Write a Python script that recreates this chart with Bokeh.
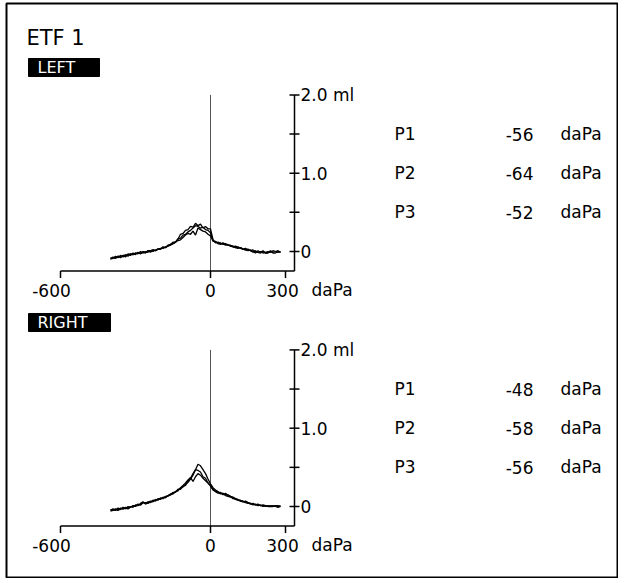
from bokeh.plotting import figure
from bokeh.models import Range1d
from bokeh.core.properties import value
from bokeh.embed import file_html
from bokeh.resources import INLINE

# ---------------- data ----------------
pressure = [-400, -390, -380, -370, -360, -350, -340, -330, -320, -310,
            -300, -290, -280, -270, -260, -250, -240, -230, -220, -210,
            -200, -190, -180, -170, -160, -150, -140, -130, -120, -110,
            -100, -90, -80, -70, -60, -50, -40, -30, -20, -10,
            0, 10, 20, 30, 40, 50, 60, 70, 80, 90,
            100, 110, 120, 130, 140, 150, 160, 170, 180, 190,
            200, 210, 220, 230, 240, 250, 260, 270, 280]

left_p1 = [-0.09, -0.07, -0.09, -0.06, -0.08, -0.05, -0.07, -0.03, -0.05, -0.02,
           -0.04, -0.01, -0.03, -0.01, -0.02, 0.01, -0.01, 0.02, 0.01, 0.03,
           0.03, 0.06, 0.05, 0.08, 0.09, 0.12, 0.12, 0.16, 0.17, 0.21,
           0.22, 0.25, 0.27, 0.30, 0.33, 0.32, 0.30, 0.31, 0.28, 0.27,
           0.24, 0.14, 0.12, 0.11, 0.11, 0.09, 0.10, 0.08, 0.07, 0.07,
           0.05, 0.06, 0.04, 0.03, 0.04, 0.02, 0.01, 0.02, 0.00, -0.01,
           0.00, -0.02, -0.01, 0.00, -0.01, 0.01, 0.00, -0.01, 0.00]
left_p2 = [-0.08, -0.09, -0.06, -0.08, -0.05, -0.07, -0.04, -0.06, -0.03, -0.04,
           -0.02, -0.03, 0.00, -0.02, 0.00, -0.01, 0.01, 0.00, 0.02, 0.03,
           0.03, 0.05, 0.05, 0.07, 0.09, 0.10, 0.12, 0.16, 0.22, 0.23,
           0.27, 0.28, 0.32, 0.31, 0.36, 0.33, 0.35, 0.30, 0.32, 0.29,
           0.29, 0.15, 0.11, 0.12, 0.10, 0.10, 0.08, 0.09, 0.07, 0.06,
           0.07, 0.05, 0.05, 0.03, 0.02, 0.03, 0.01, -0.01, 0.01, -0.01,
           -0.02, 0.00, -0.02, -0.02, 0.00, -0.02, -0.02, 0.00, -0.01]
left_p3 = [-0.10, -0.08, -0.08, -0.06, -0.07, -0.05, -0.05, -0.04, -0.03, -0.04,
           -0.02, -0.02, -0.02, 0.00, -0.01, 0.01, 0.01, 0.02, 0.01, 0.03,
           0.04, 0.04, 0.06, 0.07, 0.08, 0.10, 0.12, 0.14, 0.15, 0.18,
           0.21, 0.23, 0.22, 0.26, 0.21, 0.30, 0.28, 0.26, 0.25, 0.22,
           0.20, 0.13, 0.13, 0.10, 0.09, 0.11, 0.09, 0.08, 0.08, 0.06,
           0.05, 0.04, 0.05, 0.03, 0.02, 0.01, 0.02, 0.00, -0.02, 0.01,
           -0.01, 0.01, -0.02, -0.01, 0.01, -0.01, 0.00, 0.01, -0.01]

right_p1 = [-0.05, -0.03, -0.05, -0.02, -0.04, -0.01, -0.03, 0.00, -0.01, 0.01,
            0.01, 0.03, 0.02, 0.05, 0.05, 0.04, 0.06, 0.07, 0.08, 0.09,
            0.10, 0.11, 0.12, 0.14, 0.16, 0.17, 0.19, 0.21, 0.23, 0.25,
            0.28, 0.31, 0.35, 0.40, 0.47, 0.54, 0.52, 0.47, 0.42, 0.35,
            0.29, 0.24, 0.21, 0.19, 0.17, 0.16, 0.14, 0.13, 0.12, 0.11,
            0.09, 0.08, 0.07, 0.07, 0.05, 0.04, 0.04, 0.03, 0.02, 0.02,
            0.01, 0.01, 0.00, 0.01, 0.00, 0.00, 0.01, 0.00, 0.01]
right_p2 = [-0.04, -0.05, -0.03, -0.04, -0.02, -0.03, -0.01, -0.02, 0.00, -0.01,
            0.02, 0.01, 0.04, 0.06, 0.03, 0.05, 0.07, 0.06, 0.09, 0.08,
            0.11, 0.10, 0.13, 0.13, 0.15, 0.18, 0.18, 0.22, 0.22, 0.26,
            0.27, 0.33, 0.36, 0.42, 0.47, 0.46, 0.44, 0.38, 0.36, 0.30,
            0.26, 0.21, 0.19, 0.17, 0.18, 0.15, 0.17, 0.14, 0.13, 0.10,
            0.10, 0.08, 0.08, 0.06, 0.07, 0.05, 0.03, 0.04, 0.02, 0.03,
            0.01, 0.02, 0.01, 0.00, 0.01, 0.00, 0.01, 0.01, 0.00]
right_p3 = [-0.06, -0.05, -0.04, -0.05, -0.03, -0.03, -0.02, -0.03, -0.01, 0.01,
            0.00, 0.02, 0.02, 0.05, 0.04, 0.06, 0.05, 0.08, 0.07, 0.10,
            0.09, 0.12, 0.11, 0.14, 0.15, 0.16, 0.19, 0.20, 0.24, 0.27,
            0.30, 0.34, 0.37, 0.32, 0.38, 0.42, 0.40, 0.36, 0.33, 0.30,
            0.27, 0.22, 0.20, 0.18, 0.16, 0.17, 0.15, 0.15, 0.13, 0.12,
            0.10, 0.09, 0.07, 0.06, 0.06, 0.05, 0.04, 0.02, 0.03, 0.01,
            0.02, 0.00, 0.01, 0.00, 0.00, 0.01, 0.00, -0.01, 0.00]

peak_names = ["P1", "P2", "P3"]
left_peaks = ["-56", "-64", "-52"]
right_peaks = ["-48", "-58", "-56"]

x_ticks = [-600, 0, 300]
x_tick_labels = ["-600", "0", "300"]
y_ticks = [0, 0.5, 1.0, 1.5, 2.0]
y_tick_labels = ["0", "", "1.0", "", "2.0 ml"]
pressure_unit = "daPa"
title = "ETF 1"

# ---------------- layout (px -> data) ----------------
W, H = 612, 575          # frame size
PAD_L, PAD_T = 6, 3
PX_X = 0.25          # px per daPa
PX_Y = 78.3          # px per ml
zero_px = 204        # x pixel (within frame) of 0 daPa
top_zero = 248       # y pixel (within frame) of 0 ml, top panel
bot_zero = 503       # y pixel of 0 ml, bottom panel

x_start = -zero_px / PX_X
x_end = (W - zero_px) / PX_X

p = figure(width=W + PAD_L, height=H + PAD_T, output_backend="svg",
           toolbar_location=None,
           x_range=Range1d(x_start, x_end),
           y_range=Range1d(-(H - top_zero) / PX_Y, top_zero / PX_Y),
           x_axis_location=None, y_axis_location=None, min_border=0,
           min_border_left=PAD_L, min_border_top=PAD_T)
p.extra_y_ranges = {"bottom": Range1d(-(H - bot_zero) / PX_Y, bot_zero / PX_Y)}
p.grid.visible = False
p.outline_line_color = "black"
p.outline_line_width = 2
p.background_fill_color = "white"
p.border_fill_color = "white"

FONT = value("DejaVu Sans")
FS = "17px"
AXIS_X = 336      # daPa where ml axis sits
AXIS_Y = -0.25    # ml where pressure axis sits

panels = [
    ("default", "LEFT", [left_p1, left_p2, left_p3], left_peaks),
    ("bottom", "RIGHT", [right_p1, right_p2, right_p3], right_peaks),
]

for rn, side, curves, peaks in panels:
    kw = dict(y_range_name=rn)
    # zero-pressure reference line
    p.segment(x0=[0], y0=[AXIS_Y], x1=[0], y1=[2.0], line_color="#555555",
              line_width=1, **kw)
    # curves
    for c in curves:
        p.line(pressure, c, line_color="black", line_width=1.3, **kw)
    # pressure axis
    p.segment(x0=[x_ticks[0]], y0=[AXIS_Y], x1=[AXIS_X], y1=[AXIS_Y],
              line_color="black", line_width=1.5, **kw)
    p.segment(x0=x_ticks, y0=[AXIS_Y] * 3, x1=x_ticks, y1=[AXIS_Y - 7 / PX_Y] * 3,
              line_color="black", line_width=1.5, **kw)
    p.text(x=x_ticks, y=[AXIS_Y - 19 / PX_Y] * 3, text=x_tick_labels,
           x_offset=[-9, 0, -3], text_align="center", text_baseline="middle",
           text_font=FONT, text_font_size=FS, text_color="black", **kw)
    p.text(x=[101 / PX_X], y=[AXIS_Y - 19 / PX_Y], text=[pressure_unit],
           text_align="left", text_baseline="middle",
           text_font=FONT, text_font_size=FS, text_color="black", **kw)
    # volume axis
    p.segment(x0=[AXIS_X], y0=[AXIS_Y], x1=[AXIS_X], y1=[y_ticks[-1]],
              line_color="black", line_width=1.5, **kw)
    p.segment(x0=[AXIS_X - 5 / PX_X] * 5, y0=y_ticks, x1=[AXIS_X + 5 / PX_X] * 5,
              y1=y_ticks, line_color="black", line_width=1.5, **kw)
    p.text(x=[AXIS_X + 6 / PX_X] * 5, y=y_ticks, text=y_tick_labels,
           text_align="left", text_baseline="middle",
           text_font=FONT, text_font_size=FS, text_color="black", **kw)
    # side label box
    bw = 71 if side == "LEFT" else 82
    p.quad(left=[-182 / PX_X], right=[(-182 + bw) / PX_X],
           top=[193 / PX_Y], bottom=[175 / PX_Y], fill_color="black",
           line_color="black", **kw)
    p.text(x=[(-182 + 9) / PX_X], y=[184 / PX_Y], text=[side],
           text_align="left", text_baseline="middle",
           text_font=FONT, text_font_size="16px", text_color="white", **kw)
    # peak pressure table
    rows = [1.5, 1.0, 0.5]
    p.text(x=[184 / PX_X] * 3, y=rows, text=peak_names, text_align="left",
           text_baseline="middle", text_font=FONT, text_font_size=FS,
           text_color="black", **kw)
    p.text(x=[323 / PX_X] * 3, y=rows, text=peaks, text_align="right",
           text_baseline="middle", text_font=FONT, text_font_size=FS,
           text_color="black", **kw)
    p.text(x=[350 / PX_X] * 3, y=rows, text=[pressure_unit] * 3, text_align="left",
           text_baseline="middle", text_font=FONT, text_font_size=FS,
           text_color="black", **kw)

# title
p.text(x=[-184 / PX_X], y=[214 / PX_Y], text=[title], text_align="left",
       text_baseline="middle", text_font=value("DejaVu Sans"),
       text_font_size="21px", text_color="black")

open("out.html", "w").write(file_html(p, INLINE))
